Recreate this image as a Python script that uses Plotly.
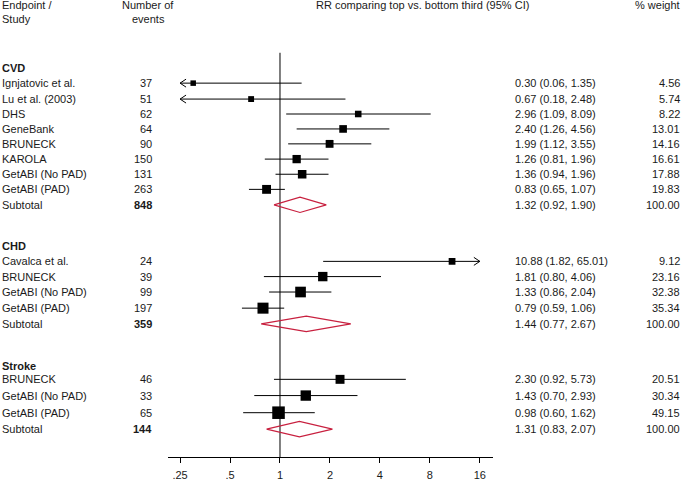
import math
import plotly.graph_objects as go

# ---------------- data ----------------
groups = ["CVD", "CHD", "Stroke"]

cvd_names = ["Ignjatovic et al.", "Lu et al. (2003)", "DHS", "GeneBank", "BRUNECK",
             "KAROLA", "GetABI (No PAD)", "GetABI (PAD)"]
cvd_events = [37, 51, 62, 64, 90, 150, 131, 263]
cvd_rr = [0.30, 0.67, 2.96, 2.40, 1.99, 1.26, 1.36, 0.83]
cvd_lo = [0.06, 0.18, 1.09, 1.26, 1.12, 0.81, 0.94, 0.65]
cvd_hi = [1.35, 2.48, 8.09, 4.56, 3.55, 1.96, 1.96, 1.07]
cvd_weight = [4.56, 5.74, 8.22, 13.01, 14.16, 16.61, 17.88, 19.83]

chd_names = ["Cavalca et al.", "BRUNECK", "GetABI (No PAD)", "GetABI (PAD)"]
chd_events = [24, 39, 99, 197]
chd_rr = [10.88, 1.81, 1.33, 0.79]
chd_lo = [1.82, 0.80, 0.86, 0.59]
chd_hi = [65.01, 4.06, 2.04, 1.06]
chd_weight = [9.12, 23.16, 32.38, 35.34]

stroke_names = ["BRUNECK", "GetABI (No PAD)", "GetABI (PAD)"]
stroke_events = [46, 33, 65]
stroke_rr = [2.30, 1.43, 0.98]
stroke_lo = [0.92, 0.70, 0.60]
stroke_hi = [5.73, 2.93, 1.62]
stroke_weight = [20.51, 30.34, 49.15]

subtotal_events = [848, 359, 144]
subtotal_rr = [1.32, 1.44, 1.31]
subtotal_lo = [0.92, 0.77, 0.83]
subtotal_hi = [1.90, 2.67, 2.07]
subtotal_weight = [100.00, 100.00, 100.00]

tick_vals = [0.25, 0.5, 1, 2, 4, 8, 16]
tick_text = [".25", ".5", "1", "2", "4", "8", "16"]

# ---------------- layout (pixel rows) ----------------
W, H = 682, 481
header_y = [68.5, 247.3, 367.8]
study_y = [[83.5, 99.5, 114.5, 129.5, 144.5, 159.8, 175.0, 190.2],
           [262.5, 277.8, 293.3, 309.5],
           [381.0, 397.3, 414.5]]
subtotal_y = [205.7, 325.3, 431.0]
x_clip = (0.25, 16)

group_data = [
    (cvd_names, cvd_events, cvd_rr, cvd_lo, cvd_hi, cvd_weight),
    (chd_names, chd_events, chd_rr, chd_lo, chd_hi, chd_weight),
    (stroke_names, stroke_events, stroke_rr, stroke_lo, stroke_hi, stroke_weight),
]

FONT = "Liberation Sans, Arial, sans-serif"
TXT = "#1a1a1a"
RED = "#C8203F"

fig = go.Figure()
ann = []


def add_text(px, y, text, anchor="left", bold=False):
    if bold:
        text = "<b>" + text + "</b>"
    ann.append(dict(x=px / W, xref="paper", y=y, yref="y", text=text, showarrow=False,
                    xanchor=anchor, yanchor="middle",
                    font=dict(family=FONT, size=11, color=TXT)))


# headers
add_text(0, 5, "Endpoint /")
add_text(0, 19, "Study")
add_text(148, 5, "Number of", "center")
add_text(148, 19, "events", "center")
add_text(422, 5, "RR comparing top vs. bottom third (95% CI)", "center")
add_text(681.5, 5, "% weight", "right")

ci_x, ci_y = [], []
arr_x, arr_y = [], []
sq_x, sq_y, sq_s = [], [], []
dia_x, dia_y = [], []
arm = 2 ** (6 / 50)

for gi, g in enumerate(groups):
    names, events, rr, lo, hi, wt = group_data[gi]
    add_text(0, header_y[gi], g, bold=True)
    for i in range(len(names)):
        y = study_y[gi][i]
        add_text(0, y, names[i])
        add_text(153.5, y, str(events[i]), "right")
        add_text(513, y, f"{rr[i]:.2f} ({lo[i]:.2f}, {hi[i]:.2f})")
        add_text(681.5, y, f"{wt[i]:.2f}", "right")
        a = max(lo[i], x_clip[0])
        b = min(hi[i], x_clip[1])
        ci_x += [a, b, None]
        ci_y += [y, y, None]
        if lo[i] < x_clip[0]:
            t = x_clip[0]
            arr_x += [t * arm, t, t * arm, None]
            arr_y += [y - 4, y, y + 4, None]
        if hi[i] > x_clip[1]:
            t = x_clip[1]
            arr_x += [t / arm, t, t / arm, None]
            arr_y += [y - 4, y, y + 4, None]
        sq_x.append(rr[i])
        sq_y.append(y)
        sq_s.append(2.4 + 1.45 * math.sqrt(wt[i]))
    ys = subtotal_y[gi]
    add_text(0, ys, "Subtotal")
    add_text(153.5, ys, str(subtotal_events[gi]), "right", bold=True)
    add_text(513, ys, f"{subtotal_rr[gi]:.2f} ({subtotal_lo[gi]:.2f}, {subtotal_hi[gi]:.2f})")
    add_text(681.5, ys, f"{subtotal_weight[gi]:.2f}", "right")
    dia_x += [subtotal_lo[gi], subtotal_rr[gi], subtotal_hi[gi], subtotal_rr[gi], subtotal_lo[gi], None]
    dia_y += [ys, ys - 7.7, ys, ys + 7.7, ys, None]

fig.add_trace(go.Scatter(x=ci_x, y=ci_y, mode="lines", line=dict(color="black", width=1),
                         hoverinfo="skip", showlegend=False))
fig.add_trace(go.Scatter(x=arr_x, y=arr_y, mode="lines", line=dict(color="black", width=1),
                         hoverinfo="skip", showlegend=False))
fig.add_trace(go.Scatter(x=dia_x, y=dia_y, mode="lines", line=dict(color=RED, width=1.2),
                         hoverinfo="skip", showlegend=False))
fig.add_trace(go.Scatter(x=sq_x, y=sq_y, mode="markers",
                         marker=dict(symbol="square", size=sq_s, color="black", opacity=1,
                                     line=dict(width=0)),
                         showlegend=False))

fig.add_shape(type="line", xref="x", yref="y", x0=1, x1=1, y0=53, y1=459,
              line=dict(color="black", width=1), layer="below")

fig.update_layout(
    width=W, height=H,
    margin=dict(l=0, r=0, t=0, b=22),
    paper_bgcolor="white", plot_bgcolor="white",
    showlegend=False,
    annotations=ann,
    xaxis=dict(type="log", range=[math.log10(0.2115), math.log10(19.2)],
               domain=[168 / W, 493 / W], showline=True, linecolor="black", linewidth=1,
               ticks="outside", ticklen=5, tickcolor="black", tickwidth=1,
               ticklabelstandoff=3,
               tickvals=tick_vals, ticktext=tick_text, showgrid=False, zeroline=False,
               tickfont=dict(family=FONT, size=11, color=TXT)),
    yaxis=dict(range=[459, 0], visible=False, showgrid=False, zeroline=False),
)

fig.write_html("out.html", config={"displayModeBar": False},
               post_script="document.body.style.margin='0';document.body.style.overflow='hidden';")
